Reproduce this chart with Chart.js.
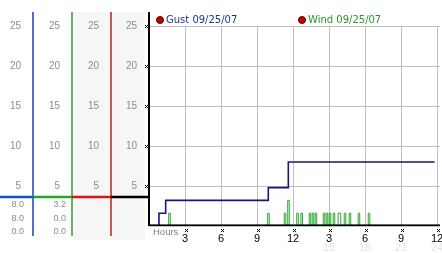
<!DOCTYPE html>
<html><head><meta charset="utf-8">
<script src="https://cdn.jsdelivr.net/npm/chart.js@4.4.1/dist/chart.umd.min.js"></script>
<style>
html,body{margin:0;padding:0;background:#fff;}
#wrap{position:relative;width:442px;height:253px;overflow:hidden;}
#c{position:absolute;left:0;top:0;}
.lg{position:absolute;top:14px;height:12px;font:10px "DejaVu Sans";line-height:12px;white-space:nowrap;}
.dot{position:absolute;top:2px;left:0;width:6px;height:6px;border-radius:50%;background:#c80000;border:1px solid #4a0000;}
.lt{position:absolute;left:10px;top:0;}
.sv{position:absolute;font:9px "Liberation Sans";color:#8c8c8c;text-align:right;line-height:13.5px;}
</style></head><body>
<div id="wrap">
<canvas id="c" width="442" height="253"></canvas>
<div id="legend"></div>
<div id="summary"></div>
</div>
<script>
// ---- data ----
const hourTicks = [0, 3, 6, 9, 12, 15, 18, 21, 24];
const xTickLabels = ['', '3', '6', '9', '12', '3', '6', '9', '12'];
const xTickLabels24 = ['', '', '', '', '', '15', '18', '21', '24'];
const yTicks = [0, 5, 10, 15, 20, 25];
const seriesNames = ['Gust 09/25/07', 'Wind 09/25/07'];
const gustHours  = [0, 0.83, 1.39, 9.94, 11.61, 23.8];
const gustValues = [0, 1.6, 3.2, 4.8, 8.0, 8.0];
const windHours  = [0, 1.64, 1.77, 9.89, 10.02, 11.27, 11.40, 11.56, 11.69, 12.31, 12.44, 12.66, 12.79,
                    13.35, 13.48, 13.60, 13.73, 13.85, 13.98, 14.52, 14.65, 14.77, 14.90, 15.02, 15.15,
                    15.35, 15.48, 15.76, 15.98, 16.27, 16.40, 16.68, 16.81, 17.43, 17.56, 18.27, 18.40, 24.0];
const windValues = [0, 1.6, 0, 1.6, 0, 1.6, 0, 3.2, 0, 1.6, 0, 1.6, 0,
                    1.6, 0, 1.6, 0, 1.6, 0, 1.6, 0, 1.6, 0, 1.6, 0,
                    1.6, 0, 1.6, 0, 1.6, 0, 1.6, 0, 1.6, 0, 1.6, 0, 0];
const gustSummary = ['8.0', '8.0', '0.0'];
const windSummary = ['3.2', '0.0', '0.0'];

// ---- styles ----
const gustColor = '#141482', windColor = '#2aa82a';
const legendTextColors = ['#1e3296', '#2a962a'];
const legendLefts = [156, 298];

// HTML legend
const lg = document.getElementById('legend');
seriesNames.forEach((n, i) => {
  const d = document.createElement('div');
  d.className = 'lg'; d.style.left = legendLefts[i] + 'px';
  d.innerHTML = '<span class="dot"></span><span class="lt" style="color:' + legendTextColors[i] + '">' + n + '</span>';
  lg.appendChild(d);
});
// summary values
const sm = document.getElementById('summary');
[[gustSummary, 0, 24], [windSummary, 33, 66]].forEach(([arr, l, r]) => {
  const d = document.createElement('div');
  d.className = 'sv'; d.style.left = l + 'px'; d.style.width = (r - l) + 'px'; d.style.top = '198px';
  d.innerHTML = arr.join('<br>');
  sm.appendChild(d);
});

function marker(ctx, x, y) {
  x = Math.round(x); y = Math.round(y);
  ctx.fillRect(x - 1, y - 1, 1, 1); ctx.fillRect(x + 1, y - 1, 1, 1);
  ctx.fillRect(x, y, 1, 1);
  ctx.fillRect(x - 1, y + 1, 1, 1); ctx.fillRect(x + 1, y + 1, 1, 1);
}

const deco = {
  id: 'deco',
  beforeDraw(chart) {
    const { ctx, chartArea: ca, scales } = chart;
    const { y1, y2, y3, y4 } = scales;
    const top = 12;
    ctx.save();
    ctx.fillStyle = '#f6f6f6';
    ctx.fillRect(y3.left + 1, top, (y4.right - 4) - (y3.left + 1), 240 - top);
    [[y1, '#1e40b4'], [y2, '#2aa02a'], [y3, '#b42020']].forEach(([s, c]) => {
      ctx.strokeStyle = c; ctx.lineWidth = 1.5;
      ctx.beginPath(); ctx.moveTo(s.right, top); ctx.lineTo(s.right, 236); ctx.stroke();
    });
    const hy = ca.bottom - 29;
    [[0, y1.right, '#1450c8'], [y1.right, y2.right, '#20aa20'], [y2.right, y3.right, '#dc1414'], [y3.right, y4.right, '#000']]
      .forEach(([a, b, c]) => { ctx.fillStyle = c; ctx.fillRect(a, hy - 1.25, b - a, 2.5); });
    ctx.restore();
  },
  afterDatasetsDraw(chart) {
    const { ctx, chartArea: ca, scales } = chart;
    const { x, y4 } = scales;
    ctx.save();
    ctx.fillStyle = '#000';
    ctx.fillRect(ca.left - 1, 12, 2, ca.bottom - 12);
    ctx.fillRect(ca.left, ca.bottom - 1.6, ca.right - ca.left, 1.6);
    yTicks.forEach(v => { if (v > 0) marker(ctx, ca.left - 3, y4.getPixelForValue(v)); });
    hourTicks.forEach(v => { if (v > 0) marker(ctx, x.getPixelForValue(v) + 1, ca.bottom + 4); });
    ctx.fillStyle = '#808080';
    ctx.font = '9.5px "Liberation Sans"';
    ctx.textBaseline = 'middle'; ctx.textAlign = 'left';
    ctx.fillText('Hours', ca.left + 4, ca.bottom + 6.5);
    ctx.fillStyle = '#e4e4e4';
    ctx.font = '11px "Liberation Sans"';
    ctx.textAlign = 'center';
    hourTicks.forEach((v, i) => { if (xTickLabels24[i]) ctx.fillText(xTickLabels24[i], x.getPixelForValue(v), ca.bottom + 22); });
    ctx.restore();
  }
};

const yAxis = (w, weight, grid) => ({
  type: 'linear', position: 'left', min: 0, max: 25, weight,
  afterBuildTicks(s) { s.ticks = yTicks.map(v => ({ value: v })); },
  afterFit(s) { s.width = w; s.paddingTop = 0; s.paddingBottom = 0; },
  ticks: { padding: 12, color: '#8c8c8c', font: { family: 'Liberation Sans', size: 10 }, callback: v => v === 0 ? '' : String(v) },
  grid: { display: grid, color: '#c0c0c0', drawTicks: false },
  border: { display: false }
});

new Chart(document.getElementById('c'), {
  type: 'line',
  data: {
    datasets: [
      { label: seriesNames[0], data: gustHours.map((h, i) => ({ x: h, y: gustValues[i] })), borderColor: gustColor,
        borderWidth: 1.6, pointRadius: 0, stepped: 'before', fill: false, yAxisID: 'y4', xAxisID: 'x', order: 0 },
      { label: seriesNames[1], data: windHours.map((h, i) => ({ x: h, y: windValues[i] })), borderColor: windColor,
        borderWidth: 1, pointRadius: 0, stepped: 'before', fill: false, yAxisID: 'y4', xAxisID: 'x', order: 1 }
    ]
  },
  options: {
    responsive: false, animation: false, events: [],
    layout: { padding: { left: 0, top: 26, right: 2, bottom: 0 } },
    plugins: { legend: { display: false }, tooltip: { enabled: false } },
    scales: {
      x: {
        type: 'linear', position: 'bottom', min: 0, max: 24.25,
        afterBuildTicks(s) { s.ticks = hourTicks.map(v => ({ value: v })); },
        afterFit(s) { s.height = 27; s.paddingLeft = 0; s.paddingRight = 0; },
        ticks: { autoSkip: false, maxRotation: 0, padding: 6, color: '#000', font: { family: 'Liberation Sans', size: 11 },
          callback: v => { const i = hourTicks.indexOf(v); return i >= 0 ? xTickLabels[i] : ''; } },
        grid: { color: '#c0c0c0', drawTicks: false },
        border: { display: false }
      },
      y1: yAxis(33, 4, false),
      y2: yAxis(39, 3, false),
      y3: yAxis(39, 2, false),
      y4: yAxis(38, 1, true)
    }
  },
  plugins: [deco]
});
</script>
</body></html>
